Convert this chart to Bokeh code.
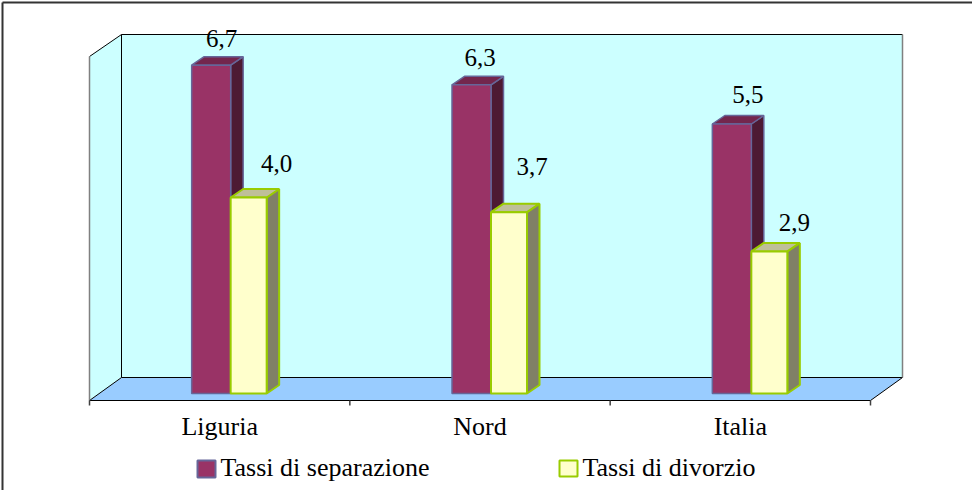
from bokeh.plotting import figure
from bokeh.models import Range1d, ColumnDataSource
from bokeh.core.properties import value
from bokeh.embed import file_html
from bokeh.resources import INLINE
import numpy as np

# ---------------- data ----------------
categories = ["Liguria", "Nord", "Italia"]
separazione = [6.7, 6.3, 5.5]
divorzio = [4.0, 3.7, 2.9]
series_names = ["Tassi di separazione", "Tassi di divorzio"]
sep_labels = ["6,7", "6,3", "5,5"]
div_labels = ["4,0", "3,7", "2,9"]

# ---------------- layout (screen px) ----------------
W, H = 972, 490
MARGIN = 8
SX0, SX3 = 97, 878          # front floor edge, left/right
SY0 = 401                   # screen y of value zero (bar base)
UY = 49.0                   # px per value unit
UX = (SX3 - SX0) / 3.0      # px per category
FONT = "Liberation Serif"

def X(sx):
    return (sx - SX0) / UX

def Y(sy):
    return (SY0 - sy) / UY

p = figure(width=W, height=H, output_backend="svg", toolbar_location=None,
           x_range=Range1d(X(MARGIN), X(MARGIN + W)),
           y_range=Range1d(Y(MARGIN + H), Y(MARGIN)),
           min_border=0, outline_line_color=None,
           background_fill_color="white", border_fill_color="white")
p.grid.visible = False
p.axis.visible = False

# ---------------- walls and floor ----------------
back = dict(l=129, r=910, t=42, b=385)
front = dict(l=97, r=878, t=64, b=408)
p.patch([X(back["l"]), X(back["r"]), X(back["r"]), X(back["l"])],
        [Y(back["t"]), Y(back["t"]), Y(back["b"]), Y(back["b"])],
        fill_color="#CCFFFF", line_color=None)
p.patch([X(front["l"]), X(back["l"]), X(back["l"]), X(front["l"])],
        [Y(front["t"]), Y(back["t"]), Y(back["b"]), Y(front["b"])],
        fill_color="#CCFFFF", line_color=None)
p.patch([X(front["l"]), X(back["l"]), X(back["r"]), X(front["r"])],
        [Y(front["b"]), Y(back["b"]), Y(back["b"]), Y(front["b"])],
        fill_color="#99CCFF", line_color=None)

black_segs = [
    (back["l"], back["t"], back["r"], back["t"]),
    (back["l"], back["t"], back["l"], back["b"]),
    (back["l"], back["b"], back["r"], back["b"]),
    (front["l"], front["t"], back["l"], back["t"]),
    (front["l"], front["b"], back["l"], back["b"]),
    (front["r"], front["b"], back["r"], back["b"]),
    (front["l"], front["b"], front["r"], front["b"]),
]
p.segment([X(s[0]) for s in black_segs], [Y(s[1]) for s in black_segs],
          [X(s[2]) for s in black_segs], [Y(s[3]) for s in black_segs],
          line_color="black", line_width=1)
gray_segs = [
    (back["r"], back["t"], back["r"], back["b"]),
    (front["l"], front["t"], front["l"], front["b"]),
]
p.segment([X(s[0]) for s in gray_segs], [Y(s[1]) for s in gray_segs],
          [X(s[2]) for s in gray_segs], [Y(s[3]) for s in gray_segs],
          line_color="#808080", line_width=1.5)

# category ticks on front floor edge
ticks = np.arange(len(categories) + 1, dtype=float)
p.segment(ticks, [Y(front["b"])] * len(ticks), ticks, [Y(front["b"] + 5)] * len(ticks),
          line_color="#404040", line_width=1.5)

# outer frame (top and left visible)
p.segment([X(10), X(10)], [Y(10), Y(10)], [X(MARGIN + W + 5), X(10)], [Y(10), Y(MARGIN + H + 5)],
          line_color="#333333", line_width=2)

# ---------------- 3D bars ----------------
DDX = 12.5 / UX
DDY = 8.5 / UY
centers = np.arange(len(categories)) + 0.5
sep_l = centers - 28 / UX
split = centers + 11 / UX
div_r = centers + 47 / UX

def bar_faces(x0, x1, vals):
    fr_x, fr_y, sd_x, sd_y, tp_x, tp_y = [], [], [], [], [], []
    for a, b, v in zip(x0, x1, vals):
        fr_x.append([a, b, b, a]); fr_y.append([0, 0, v, v])
        sd_x.append([b, b + DDX, b + DDX, b]); sd_y.append([0, DDY, v + DDY, v])
        tp_x.append([a, b, b + DDX, a + DDX]); tp_y.append([v, v, v + DDY, v + DDY])
    return fr_x, fr_y, sd_x, sd_y, tp_x, tp_y

def draw_bars(x0, x1, vals, front_c, side_c, top_c, edge_c, edge_w):
    fx, fy, sx, sy, tx, ty = bar_faces(x0, x1, vals)
    p.patches(sx, sy, fill_color=side_c, line_color=edge_c, line_width=edge_w)
    p.patches(tx, ty, fill_color=top_c, line_color=edge_c, line_width=edge_w)
    p.patches(fx, fy, fill_color=front_c, line_color=edge_c, line_width=edge_w)

draw_bars(sep_l, split, separazione, "#993366", "#4D1A33", "#73264D", "#666699", 1.5)
draw_bars(split, div_r, divorzio, "#FFFFCC", "#808066", "#BFBF99", "#99CC00", 2)

# ---------------- value labels ----------------
lab_src = ColumnDataSource(dict(
    x=list((sep_l + split) / 2) + list((split + div_r) / 2),
    y=separazione + divorzio,
    text=sep_labels + div_labels,
    xo=[10.5, 8.5, 16, 28, 23, 25],
    yo=[-17.7, -18.7, -21, -26, -37, -20],
))
p.text(x="x", y="y", text="text", x_offset="xo", y_offset="yo", source=lab_src,
       text_font=value(FONT), text_font_size="25px", text_color="black",
       text_align="center", text_baseline="bottom")

# ---------------- category labels ----------------
p.text(x=list(centers), y=[Y(448)] * 3, text=categories,
       text_font=value(FONT), text_font_size="26px", text_color="black",
       text_align="center", text_baseline="bottom")

# ---------------- legend ----------------
leg_sq = [(205, 468, 223, 485, "#993366", "#666699"), (567, 468, 585, 484, "#FFFFCC", "#99CC00")]
for l, t, r, b, fc, lc in leg_sq:
    p.patch([X(l), X(r), X(r), X(l)], [Y(t), Y(t), Y(b), Y(b)],
            fill_color=fc, line_color=lc, line_width=2)
p.text(x=[X(228), X(590)], y=[Y(489)] * 2, text=series_names,
       text_font=value(FONT), text_font_size="26px", text_color="black",
       text_align="left", text_baseline="bottom")

open("out.html", "w").write(file_html(p, INLINE))
